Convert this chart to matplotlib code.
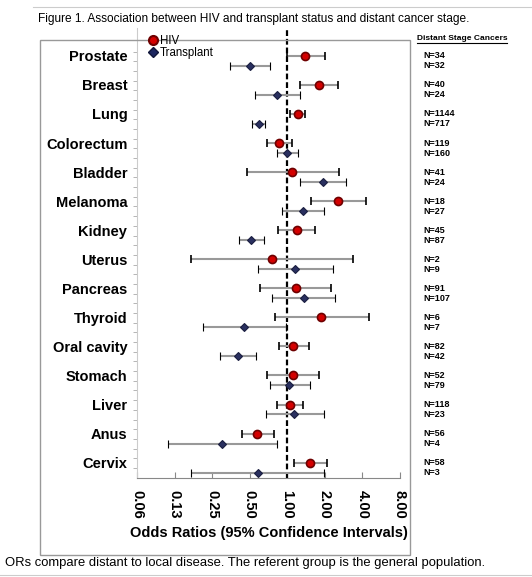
import numpy as np
import matplotlib
matplotlib.use('Agg')
import matplotlib.pyplot as plt
from matplotlib.patches import Rectangle
from matplotlib.lines import Line2D
from matplotlib.ticker import NullLocator

plt.rcParams['font.family'] = ['Liberation Sans', 'DejaVu Sans']

# odds ratios (distant vs local stage)
cancers = ['Prostate', 'Breast', 'Lung', 'Colorectum', 'Bladder', 'Melanoma', 'Kidney',
           'Uterus', 'Pancreas', 'Thyroid', 'Oral cavity', 'Stomach', 'Liver', 'Anus', 'Cervix']
hiv_or = [1.39, 1.81, 1.22, 0.86, 1.10, 2.57, 1.19, 0.76, 1.17, 1.87, 1.12, 1.11, 1.05, 0.57, 1.53]
hiv_lo = [0.99, 1.27, 1.06, 0.69, 0.475, 1.55, 0.85, 0.17, 0.60, 0.79, 0.86, 0.69, 0.83, 0.435, 1.14]
hiv_hi = [2.02, 2.54, 1.39, 1.09, 2.58, 4.28, 1.67, 3.34, 2.26, 4.55, 1.48, 1.80, 1.34, 0.78, 2.07]
tx_or = [0.505, 0.83, 0.596, 1.00, 1.92, 1.34, 0.51, 1.16, 1.36, 0.446, 0.40, 1.04, 1.14, 0.30, 0.58]
tx_lo = [0.35, 0.55, 0.52, 0.82, 1.26, 0.91, 0.41, 0.58, 0.76, 0.21, 0.29, 0.73, 0.67, 0.11, 0.17]
tx_hi = [0.73, 1.27, 0.666, 1.21, 2.97, 1.98, 0.65, 2.34, 2.43, 0.97, 0.56, 1.51, 1.96, 0.83, 1.96]
hiv_n = [34, 40, 1144, 119, 41, 18, 45, 2, 91, 6, 82, 52, 118, 56, 58]
tx_n = [32, 24, 717, 160, 24, 27, 87, 9, 107, 7, 42, 79, 23, 4, 3]
xticks = [0.0625, 0.125, 0.25, 0.5, 1, 2, 4, 8]
xticklabels = ['0.06', '0.13', '0.25', '0.50', '1.00', '2.00', '4.00', '8.00']

W, H = 532, 577
fig = plt.figure(figsize=(W/100, H/100), dpi=100)
def fx(px): return px/W
def fy(py): return 1-py/H

ax = fig.add_axes([fx(137), fy(478), fx(400)-fx(137), fy(28)-fy(478)])
ax.set_xscale('log', base=2)
ax.set_xlim(2**-4, 2**3)
ax.set_ylim(14.53, -0.96)

rows = np.arange(len(cancers))
off = 0.344

hiv_or = np.array(hiv_or); tx_or = np.array(tx_or)
eb = ax.errorbar(hiv_or, rows, xerr=[hiv_or-np.array(hiv_lo), np.array(hiv_hi)-hiv_or],
                 fmt='o', color='#d40000', mec='#6e0000', mew=1.2, ms=5.8,
                 ecolor='#999999', elinewidth=1.5, capsize=2.6, capthick=2.6, zorder=3)
for c in eb[1]:
    c.set_markeredgecolor('black')
eb2 = ax.errorbar(tx_or, rows+off, xerr=[tx_or-np.array(tx_lo), np.array(tx_hi)-tx_or],
                  fmt='D', color='#2a3060', mec='#1a1e40', mew=0.8, ms=4,
                  ecolor='#999999', elinewidth=1.5, capsize=2.6, capthick=2.6, zorder=3)
for c in eb2[1]:
    c.set_markeredgecolor('black')

ax.axvline(1, color='black', ls=(0, (2.6, 1.3)), lw=1.6, zorder=2)

ax.set_xticks(xticks)
ax.set_xticklabels(xticklabels, rotation=270, fontsize=10.5, fontweight='bold')
ax.xaxis.set_minor_locator(NullLocator())
ax.tick_params(axis='x', direction='in', length=4, color='#888888', pad=9)
ax.set_xlabel('Odds Ratios (95% Confidence Intervals)', fontsize=10.5, fontweight='bold', labelpad=5)

ax.set_yticks(rows)
ax.set_yticklabels(cancers, fontsize=10.5, fontweight='bold')
ax.set_yticks(np.arange(-0.15, 14.5, 1/3), minor=True)
ax.tick_params(axis='y', which='major', length=0, pad=7)
ax.tick_params(axis='y', which='minor', length=3, color='#aaaaaa', direction='out')

for s in ['top', 'right']:
    ax.spines[s].set_visible(False)
ax.spines['left'].set_color('#cccccc')
ax.spines['bottom'].set_color('#888888')

tr = ax.get_yaxis_transform()
for i in rows:
    ax.text(1.087, i, 'N=%d' % hiv_n[i], transform=tr, fontsize=6.5, weight='bold', va='center', clip_on=False)
    ax.text(1.087, i+off, 'N=%d' % tx_n[i], transform=tr, fontsize=6.5, weight='bold', va='center', clip_on=False)

handles = [Line2D([], [], marker='o', ls='none', color='#d40000', mec='#6e0000', mew=1.5, ms=6.5),
           Line2D([], [], marker='D', ls='none', color='#1c2660', mec='#10163a', ms=5)]
fig.legend(handles, ['HIV', 'Transplant'], loc='upper left', bbox_to_anchor=(fx(141), fy(29)),
           frameon=False, fontsize=8.3, handletextpad=0.15, labelspacing=0.0, borderpad=0,
           handlelength=1)

fig.text(fx(417), fy(38), 'Distant Stage Cancers', fontsize=6, weight='bold', va='center')
fig.add_artist(Line2D([fx(417), fx(507)], [fy(43), fy(43)], color='black', lw=0.8))

fig.text(fx(38), fy(19), 'Figure 1. Association between HIV and transplant status and distant cancer stage.',
         fontsize=8.6, va='center')
fig.text(fx(5), fy(563), 'ORs compare distant to local disease. The referent group is the general population.',
         fontsize=9.4, va='center')

fig.add_artist(Rectangle((fx(40), fy(555)), fx(410)-fx(40), fy(40)-fy(555), transform=fig.transFigure,
                         fill=False, edgecolor='#999999', lw=1))
fig.add_artist(Line2D([fx(33), 1], [fy(7), fy(7)], color='#cccccc', lw=0.8))
fig.add_artist(Line2D([0, 1], [fy(575), fy(575)], color='#cccccc', lw=0.8))

fig.savefig('out.png', dpi=100)
